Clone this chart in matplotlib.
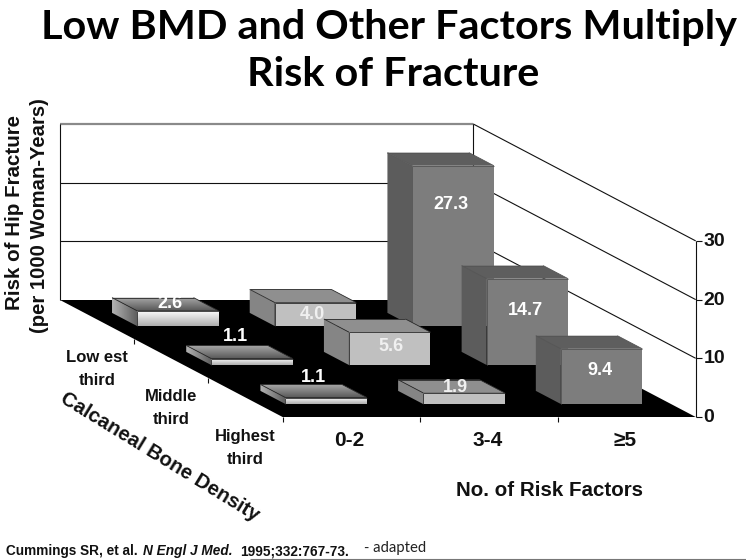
import numpy as np
import matplotlib
matplotlib.use("Agg")
import matplotlib.pyplot as plt
from matplotlib.patches import Polygon

# ---------- data ----------
bone_density = ["Low est\nthird", "Middle\nthird", "Highest\nthird"]
risk_factors = ["0-2", "3-4", "\u22655"]
lowest_third = [2.6, 4.0, 27.3]
middle_third = [1.1, 5.6, 14.7]
highest_third = [1.1, 1.9, 9.4]
z_ticks = [0, 10, 20, 30]

# ---------- layout of the oblique projection (pixels) ----------
W, H = 746, 560
ORIGIN = (60.0, 300.0)
COL = (137.7, 0.0)
ROW = (74.2, 39.0)
UNIT = 5.87
BAR_W = 0.592      # of a column
BAR_D = 0.337      # of a row
BAR_X0 = 0.20      # bar start in a column
BAR_Y0 = 0.33      # bar start in a row

def project(c, r, v=0.0):
    return (ORIGIN[0] + c * COL[0] + r * ROW[0],
            ORIGIN[1] + r * ROW[1] - v * UNIT)

fig = plt.figure(figsize=(W / 100, H / 100), dpi=100)
ax = fig.add_axes([0, 0, 1, 1])
ax.set_xlim(0, W)
ax.set_ylim(H, 0)
ax.axis("off")

z = [1]
def nz():
    z[0] += 1
    return z[0]

def poly(pts, fc, ec="none", lw=0.0):
    ax.add_patch(Polygon(pts, closed=True, fc=fc, ec=ec, lw=lw, zorder=nz()))

def grad(pts, c0, c1, horizontal=False):
    pts = np.array(pts)
    x0, x1, y0, y1 = pts[:, 0].min(), pts[:, 0].max(), pts[:, 1].min(), pts[:, 1].max()
    g = np.linspace(c0, c1, 64)
    g = g[None, :] if horizontal else g[:, None]
    zz = nz()
    im = ax.imshow(g, extent=(x0, x1, y1, y0), cmap="gray", vmin=0, vmax=1,
                   aspect="auto", interpolation="bilinear", zorder=zz)
    im.set_clip_path(Polygon(pts, closed=True, transform=ax.transData))

def line(a, b, color="#111111", lw=0.8):
    ax.plot([a[0], b[0]], [a[1], b[1]], color=color, lw=lw, zorder=nz(),
            solid_capstyle="butt")

# ---------- walls ----------
n_c, n_r = len(risk_factors), len(bone_density)
for t in z_ticks[1:]:
    top = t == z_ticks[-1]
    line(project(0, 0, t), project(n_c, 0, t), color="#8a8a8a" if top else "#111111", lw=1.6 if top else 0.8)
    line(project(n_c, 0, t), project(n_c, n_r, t))
line(project(0, 0, 0), project(0, 0, z_ticks[-1]))
line(project(n_c, 0, 0), project(n_c, 0, z_ticks[-1]))
line(project(n_c, n_r, 0), project(n_c, n_r, z_ticks[-1]))

# ---------- floor ----------
poly([project(0, 0), project(n_c, 0), project(n_c, n_r), project(0, n_r)], "black")

# ticks
for t in z_ticks:
    x, y = project(n_c, n_r, t)
    line((x, y), (x + 6, y))
    ax.text(x + 8, y + 0.5, str(t), fontsize=14, fontweight="bold",
            family="Liberation Sans", va="center", ha="left", color="#111111", zorder=500)
for c in range(n_c):
    x, y = project(c, n_r)
    line((x, y), (x, y + 5))
for r in range(1, n_r):
    x, y = project(0, r)
    line((x, y), (x, y + 5))

# ---------- bars ----------
styles = {
    0: dict(kind="grad"),
    1: dict(kind="flat", front="#c0c0c0", top="#8f8f8f", side="#858585"),
    2: dict(kind="flat", front="#7d7d7d", top="#5e5e5e", side="#5c5c5c"),
}
label_dy = [[-7, 12, 39], [-22, 14, 32], [-20, -5, 22]]
label_dx = [[-8, -3, -2], [-17, 1, -2], [-13, -8, -2]]
rows = [lowest_third, middle_third, highest_third]

for r, vals in enumerate(rows):
    for c, v in enumerate(vals):
        c0, c1 = c + BAR_X0, c + BAR_X0 + BAR_W
        r0, r1 = r + BAR_Y0, r + BAR_Y0 + BAR_D
        fbl, fbr = project(c0, r1, 0), project(c1, r1, 0)
        ftl, ftr = project(c0, r1, v), project(c1, r1, v)
        btl, btr = project(c0, r0, v), project(c1, r0, v)
        bbl = project(c0, r0, 0)
        st = styles[c]
        side_pts = [btl, ftl, fbl, bbl]
        top_pts = [btl, btr, ftr, ftl]
        front_pts = [ftl, ftr, fbr, fbl]
        if st["kind"] == "grad":
            grad(side_pts, 0.70, 0.36, horizontal=True)
            grad(top_pts, 0.66, 0.34)
            grad(front_pts, 1.0, 0.68)
        else:
            poly(side_pts, st["side"])
            poly(top_pts, st["top"])
            poly(front_pts, st["front"])
        edge = "#2a2a2a" if c < 2 else "#555555"
        for a, b in [(btl, btr), (btl, ftl), (ftl, ftr), (btr, ftr), (ftl, fbl)]:
            line(a, b, color=edge, lw=0.6)
        ax.text((ftl[0] + ftr[0]) / 2 + label_dx[r][c], ftl[1] + label_dy[r][c], f"{v:.1f}",
                color="white" if c != 1 else "#f0f0f0", fontsize=13, fontweight="bold",
                family="Liberation Sans", ha="center", va="center", zorder=nz())

# ---------- text ----------
sans = dict(family="Liberation Sans", fontweight="bold", color="#111111")
ax.text(389, 28, "Low BMD and Other Factors Multiply", family="Lato", fontweight="bold",
        fontsize=29.8, ha="center", va="center", color="black", zorder=900)
ax.text(393, 74, "Risk of Fracture", family="Lato", fontweight="bold",
        fontsize=29.8, ha="center", va="center", color="black", zorder=900)

ax.text(15, 212, "Risk of Hip Fracture", rotation=90, fontsize=14.8, ha="center", va="center", **sans)
ax.text(40, 216, "(per 1000 Woman-Years)", rotation=90, fontsize=14.6, ha="center", va="center", **sans)

cat_pos = [(97, 369), (171, 408), (245, 448)]
for (x, y), t in zip(cat_pos, bone_density):
    ax.text(x, y, t, fontsize=12, ha="center", va="center", linespacing=1.6, **sans)

for c, t in enumerate(risk_factors):
    x, y = project(c + 0.5, n_r)
    ax.text(x - 2, y + 23, t, fontsize=15, ha="center", va="center", **sans)

ax.text(550, 491, "No. of Risk Factors", fontsize=14.8, ha="center", va="center", **sans)
ax.text(160, 457, "Calcaneal Bone Density", rotation=-31.5, rotation_mode="anchor",
        fontsize=14.6, ha="center", va="center", **sans)

ax.text(6, 551.5, "Cummings SR, et al. ", fontsize=9.8, ha="left", va="center", **sans)
ax.text(143, 551.5, "N Engl J Med.", fontsize=9.8, style="italic", ha="left", va="center", **sans)
ax.text(240, 551.5, "1995;332:767-73.", fontsize=9.8, ha="left", va="center", **sans)
ax.text(364, 548, "- adapted", family="Lato", fontsize=10.7, ha="left", va="center", color="#222222")
line((250, 559), (746, 559), color="#777777", lw=0.8)

ax.set_xlim(0, W)
ax.set_ylim(H, 0)
fig.savefig("out.png", dpi=100)
